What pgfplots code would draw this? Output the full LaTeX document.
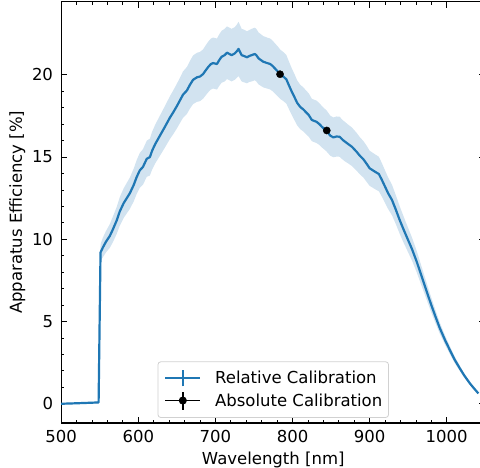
\documentclass[border=0pt]{standalone}
\usepackage{fontspec}
\setmainfont{DejaVu Sans}
\usepackage{pgfplots}
\usepackage{pgfplotstable}
\pgfplotsset{compat=1.18}
\usepgfplotslibrary{fillbetween}
\definecolor{tabblue}{RGB}{31,119,180}
\definecolor{bandcol}{RGB}{210,227,240}

\pgfplotstableread{
x y e
500 0.00 0.04
520 0.03 0.04
548.5 0.08 0.05
551 9.2 0.5
554 9.5 0.6
558 9.85 0.65
563 10.2 0.72
567 10.6 0.78
572 11.15 0.82
576 11.7 0.87
581 12.2 0.9
585 12.5 0.93
589 12.8 0.95
594 13.3 1.0
598 13.8 1.03
602 14.2 1.06
606 14.4 1.08
611 14.9 1.1
615 15.0 1.12
618 15.4 1.15
622 15.8 1.18
628 16.3 1.22
634 16.8 1.26
641 17.4 1.3
645 17.7 1.33
650 18.1 1.36
654 18.45 1.38
658 18.8 1.41
663 19.05 1.43
667 19.4 1.45
671 19.7 1.48
676 19.85 1.49
680 19.9 1.5
684 20.05 1.5
687 20.25 1.52
691 20.5 1.54
694 20.65 1.55
697 20.72 1.55
702 20.66 1.55
705 20.9 1.57
708 21.1 1.58
712 21.2 1.6
715 21.35 1.6
717 21.3 1.6
721 21.2 1.6
725 21.3 1.6
728 21.45 1.62
730 21.58 1.65
734 21.2 1.6
737 21.15 1.6
741 21.07 1.58
744 21.15 1.58
747 21.2 1.6
751 21.27 1.6
753 21.2 1.6
756 21.0 1.58
762 20.8 1.56
767 20.72 1.55
771 20.66 1.55
774 20.55 1.54
777 20.4 1.53
781 20.2 1.52
784 20.04 1.5
788 19.9 1.49
792 19.73 1.48
795 19.4 1.45
799 18.98 1.42
803 18.6 1.4
806 18.3 1.37
810 18.05 1.35
814 17.9 1.34
818 17.7 1.33
821 17.56 1.32
825 17.26 1.29
828 17.2 1.29
831 17.15 1.29
835 17.0 1.27
838 16.85 1.26
841 16.72 1.25
844 16.6 1.25
849 16.3 1.22
853 16.2 1.21
857 16.25 1.22
861 16.24 1.22
865 16.05 1.2
868 15.94 1.2
872 15.8 1.18
877 15.63 1.17
880 15.48 1.16
883 15.33 1.15
887 15.1 1.13
892 14.86 1.11
896 14.6 1.1
900 14.32 1.07
904 14.2 1.06
907 14.11 1.06
912 13.97 1.05
916 13.6 1.02
920 13.2 0.99
924 12.8 0.96
929 12.39 0.93
934 11.8 0.88
939 11.17 0.84
944 10.6 0.8
948 10.16 0.76
955 9.4 0.7
961 8.65 0.65
966 7.95 0.6
971 7.25 0.54
976 6.55 0.49
980 6.0 0.45
985 5.35 0.4
991 4.6 0.34
998 3.85 0.28
1004 3.27 0.24
1010 2.7 0.2
1017 2.15 0.16
1023 1.7 0.12
1030 1.24 0.09
1036 0.9 0.07
1041 0.63 0.05
}\curve

\pgfplotstableread{
x y
783.8 20.04
844.4 16.62
}\absol

\begin{document}
\begin{tikzpicture}
\begin{axis}[
  at={(0pt,0pt)}, anchor=south west,
  scale only axis, width=424.1pt, height=421.3pt,
  xmin=500, xmax=1050, ymin=-1.17, ymax=24.45,
  xtick={500,600,700,800,900,1000},
  ytick={0,5,10,15,20},
  minor x tick num=4, minor y tick num=4,
  tick align=inside, xtick pos=both, ytick pos=both,
  major tick length=6pt, minor tick length=3pt,
  every tick/.style={black, line width=1pt},
  every minor tick/.style={black, line width=0.8pt},
  axis line style={black, line width=1.1pt},
  /pgf/number format/assume math mode=true,
  /pgf/number format/1000 sep={},
  tick label style={font=\fontsize{16.5}{19.8}\selectfont},
  xticklabel style={anchor=north, inner sep=0pt, yshift=-7pt},
  yticklabel style={anchor=east, inner sep=0pt, xshift=-8pt},
  xlabel={Wavelength [nm]},
  ylabel={Apparatus Efficiency [\%]},
  label style={font=\fontsize{16.5}{19.8}\selectfont},
  xlabel style={at={(axis description cs:0.5,-0.0974)}, anchor=base, inner sep=0pt},
  ylabel style={at={(axis description cs:-0.0842,0.5)}, anchor=south, rotate=0, inner sep=0pt},
  legend cell align=left,
  legend style={at={(0.5,0.012)}, anchor=south,
    font=\fontsize{16.5}{19.8}\selectfont,
    draw=black!18, line width=0.8pt, rounded corners=3pt,
    inner xsep=6.3pt, inner ysep=7pt, row sep=3pt,
    nodes={inner sep=0pt},
    /tikz/every odd column/.append style={column sep=13.7pt}},
]
\addplot[name path=up, draw=none, forget plot] table[x=x, y expr=\thisrow{y}+\thisrow{e}] {\curve};
\addplot[name path=lo, draw=none, forget plot] table[x=x, y expr=\thisrow{y}-\thisrow{e}] {\curve};
\addplot[fill=bandcol, draw=none, forget plot] fill between[of=up and lo];
\addplot[tabblue, line width=2.2pt, line join=round,
  legend image code/.code={
    \draw[tabblue, line width=2.2pt] (0pt,0pt) -- (35pt,0pt);
    \draw[tabblue, line width=2.2pt] (17.5pt,-8.3pt) -- (17.5pt,8.3pt);}
  ] table[x=x, y=y] {\curve};
\addlegendentry{Relative Calibration}
\addplot[only marks, mark=*, mark size=3.6pt, black,
  legend image code/.code={
    \path (0pt,0pt) -- (35pt,0pt);
    \draw[black, line width=2pt] (17.5pt,-9pt) -- (17.5pt,9pt);
    \fill[black] (17.5pt,0pt) circle (3.6pt);}
  ] table[x=x, y=y] {\absol};
\addlegendentry{Absolute Calibration}
\end{axis}
\pgfresetboundingbox
\useasboundingbox (-61.2pt,-44pt) rectangle (418.8pt,423pt);
\end{tikzpicture}
\end{document}
